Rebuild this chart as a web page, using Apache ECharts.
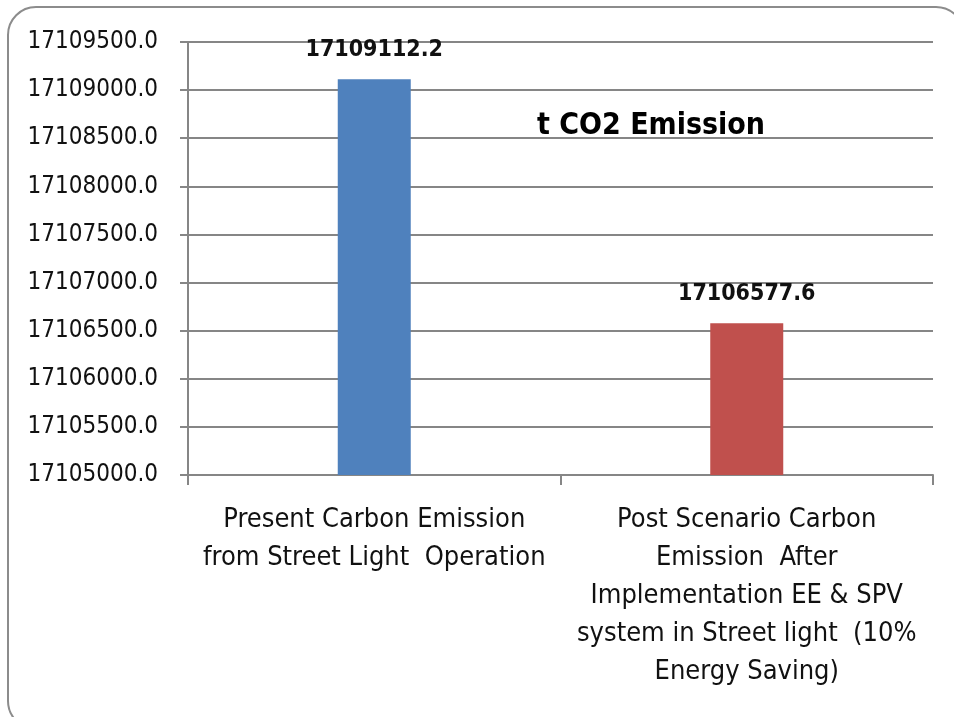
<!DOCTYPE html>
<html><head><meta charset="utf-8">
<script src="https://cdn.jsdelivr.net/npm/echarts@6/dist/echarts.min.js"></script>
<style>html,body{margin:0;padding:0;background:#fff}#c{width:954px;height:717px}</style>
</head><body><div id="c"></div>
<script>
var categories = ["Present Carbon Emission\nfrom Street Light  Operation", "Post Scenario Carbon\nEmission  After\nImplementation EE & SPV\nsystem in Street light  (10%\nEnergy Saving)"];
var values = [17109112.2, 17106577.6];
var barColors = ["#4F81BD", "#C0504D"];
var yMin = 17105000, yMax = 17109500, yStep = 500;
var titleText = "t CO2 Emission";
var font = "'DejaVu Sans Condensed', 'Liberation Sans Narrow', 'Liberation Sans', Arial, sans-serif";
var chart = echarts.init(document.getElementById('c'), null, {renderer:'canvas'});
chart.setOption({
  animation:false,
  backgroundColor:'#fff',
  graphic:[{type:'rect', shape:{x:8,y:7,width:956,height:722,r:28}, style:{fill:'none', stroke:'#8c8c8c', lineWidth:2}}],
  title:{text:titleText, left:646, top:106, textAlign:'center', textStyle:{fontFamily:font, fontSize:30, fontWeight:'bold', color:'#000'}},
  grid:{left:188, right:21, top:42, bottom:242},
  xAxis:{type:'category', data:categories,
    axisLine:{lineStyle:{color:'#868686', width:2}},
    axisTick:{show:true, length:10, lineStyle:{color:'#868686', width:2}},
    axisLabel:{fontFamily:font, fontSize:27, color:'#111', lineHeight:38, margin:26, interval:0}},
  yAxis:{type:'value', min:yMin, max:yMax, interval:yStep,
    axisLine:{show:true, lineStyle:{color:'#868686', width:2}},
    axisTick:{show:true, length:8, inside:false, lineStyle:{color:'#868686', width:2}},
    splitLine:{show:true, lineStyle:{color:'#868686', width:2}},
    axisLabel:{fontFamily:font, fontSize:24, color:'#111', margin:30, formatter:function(v){return v.toFixed(1);}}},
  series:[{type:'bar', barWidth:73,
    data:values.map(function(v,i){return {value:v, itemStyle:{color:barColors[i]}};}),
    label:{show:true, position:'top', distance:18, fontFamily:font, fontSize:23, fontWeight:'bold', color:'#111', formatter:function(p){return p.value.toFixed(1);}}}]
});
</script></body></html>
